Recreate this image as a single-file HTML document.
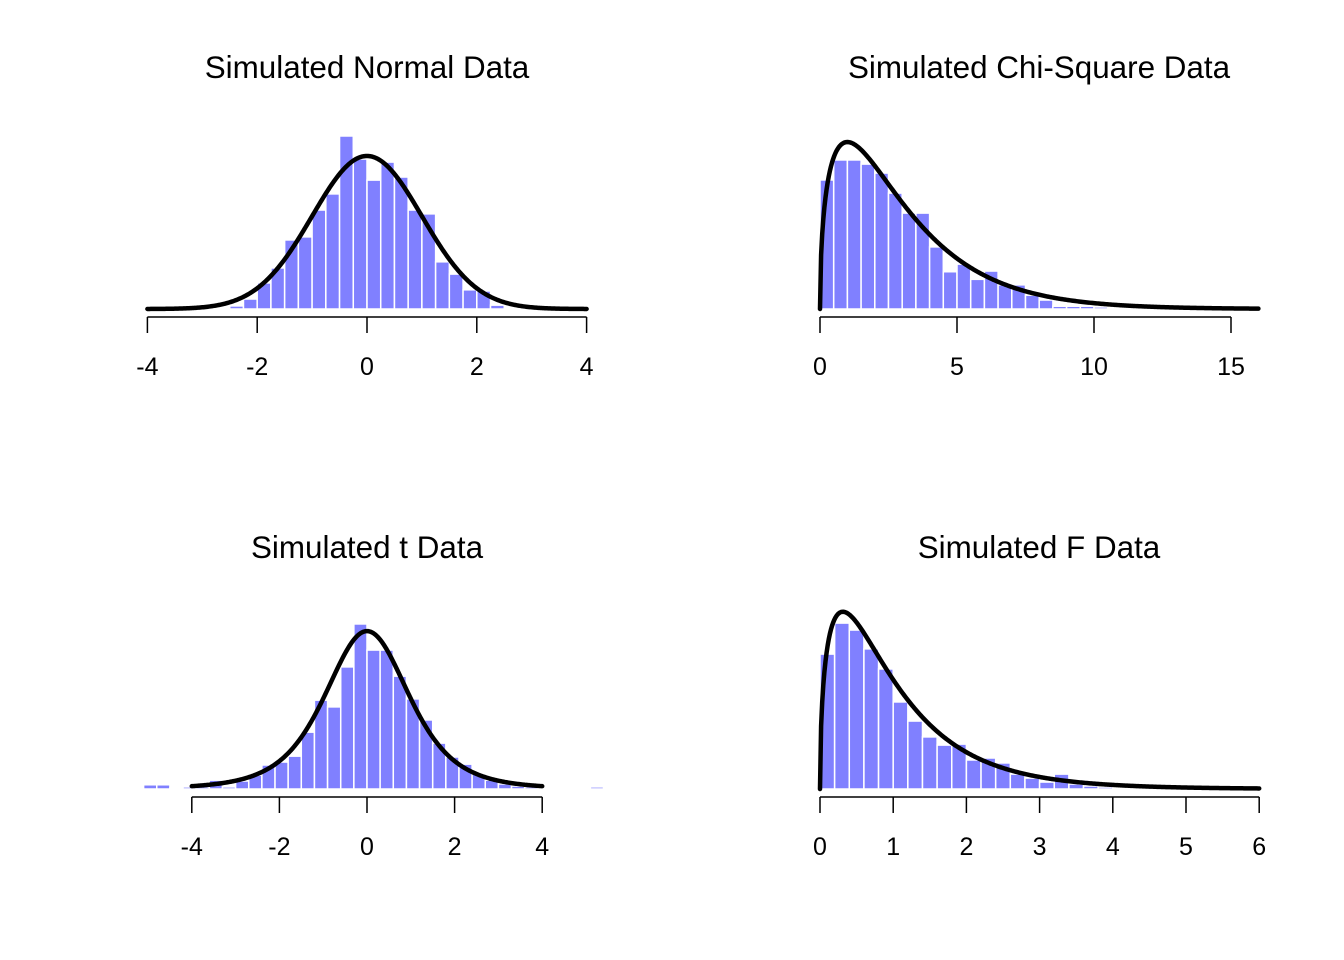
<!DOCTYPE html>
<html><head><meta charset="utf-8"><style>
html,body{margin:0;padding:0;background:#fff}
svg{display:block}
text{font-family:"Liberation Sans",Arial,sans-serif;fill:#000}
</style></head><body>
<svg id="chart" width="1344" height="960" viewBox="0 0 1344 960"></svg>
<script>
// ---- data ----
const normalBinStart = -2.5, normalBinWidth = 0.25;
const normalDensity = [0.008,0.026,0.068,0.107,0.180,0.188,0.258,0.300,0.451,0.391,0.336,0.383,0.344,0.258,0.248,0.123,0.091,0.050,0.047,0.010,0.003];
const normalTicks = [-4,-2,0,2,4];

const chiBinStart = 0, chiBinWidth = 0.5;
const chiDensity = [0.187,0.216,0.216,0.210,0.197,0.168,0.139,0.139,0.090,0.054,0.065,0.043,0.055,0.035,0.035,0.020,0.013,0.004,0.004,0.004,0.003];
const chiTicks = [0,5,10,15];

const tBinStart = -5.1, tBinWidth = 0.3;
const tDensity = [0.010,0.010,0.002,0.005,0.005,0.021,0.005,0.019,0.033,0.057,0.064,0.078,0.135,0.211,0.195,0.290,0.392,0.330,0.330,0.268,0.214,0.164,0.109,0.076,0.059,0.036,0.021,0.012,0.007,0.005,0.002,0,0,0,0.005];
const tTicks = [-4,-2,0,2,4];

const fBinStart = 0, fBinWidth = 0.2;
const fDensity = [0.544,0.669,0.641,0.565,0.484,0.351,0.274,0.210,0.177,0.181,0.117,0.125,0.105,0.060,0.044,0.028,0.060,0.020,0.012,0.008];
const fTicks = [0,1,2,3,4,5,6];

// ---- math ----
function lgamma(z){const g=7,c=[0.99999999999980993,676.5203681218851,-1259.1392167224028,771.32342877765313,-176.61502916214059,12.507343278686905,-0.13857109526572012,9.9843695780195716e-6,1.5056327351493116e-7];
 if(z<0.5) return Math.log(Math.PI/Math.sin(Math.PI*z))-lgamma(1-z);
 z-=1;let x=c[0];for(let i=1;i<g+2;i++)x+=c[i]/(z+i);const t=z+g+0.5;
 return 0.5*Math.log(2*Math.PI)+(z+0.5)*Math.log(t)-t+Math.log(x);}
const dnorm=x=>Math.exp(-x*x/2)/Math.sqrt(2*Math.PI);
const dchisq=(x,k)=>x<=0?0:Math.exp((k/2-1)*Math.log(x)-x/2-(k/2)*Math.log(2)-lgamma(k/2));
const dt=(x,n)=>Math.exp(lgamma((n+1)/2)-lgamma(n/2)-0.5*Math.log(n*Math.PI)-((n+1)/2)*Math.log(1+x*x/n));
const df=(x,a,b)=>x<=0?0:Math.exp(lgamma((a+b)/2)-lgamma(a/2)-lgamma(b/2)+(a/2)*Math.log(a/b)+(a/2-1)*Math.log(x)-((a+b)/2)*Math.log(1+a*x/b));

const svg=document.getElementById('chart');
const NS='http://www.w3.org/2000/svg';
function mk(tag,attrs,parent){const e=document.createElementNS(NS,tag);for(const k in attrs)e.setAttribute(k,attrs[k]);parent.appendChild(e);return e;}

function panel(opt){
 const g=mk('g',{},svg);
 
 
 const X=v=>opt.x0+(v-opt.v0)*opt.pxu;
 const Y=d=>opt.base-d*opt.ys;
 opt.dens.forEach((d,i)=>{
  if(d<=0) return;
  const a=opt.binStart+i*opt.binWidth, b=a+opt.binWidth;
  const r=mk('rect',{x:X(a),y:Y(d),width:X(b)-X(a),height:opt.base-Y(d),fill:'#8080FF',stroke:'#fff','stroke-width':1.5},g);
  
  
 });
 let p='';const n=400;
 for(let i=0;i<=n;i++){const v=opt.c0+(opt.c1-opt.c0)*i/n;p+=(i?'L':'M')+X(v).toFixed(2)+','+Y(opt.pdf(v)).toFixed(2);}
 const c=mk('path',{d:p,fill:'none',stroke:'#000','stroke-width':4.5,'stroke-linejoin':'round','stroke-linecap':'round'},g);
 
 
 const ay=opt.base+8;
 const t0=opt.ticks[0],t1=opt.ticks[opt.ticks.length-1];
 const ax=mk('line',{x1:X(t0),x2:X(t1),y1:ay,y2:ay,stroke:'#000','stroke-width':1.5},g);
 
 
 opt.ticks.forEach(t=>{
  const tk=mk('line',{x1:X(t),x2:X(t),y1:ay,y2:ay+16,stroke:'#000','stroke-width':1.5},g);
  
  
  const tl=mk('text',{x:X(t),y:ay+58,'text-anchor':'middle','font-size':25},g);
  tl.textContent=t;
  
  
 });
 const ti=mk('text',{x:opt.tx,y:opt.ty,'text-anchor':'middle','font-size':31.4},g);
 ti.textContent=opt.title;
 
 
}

panel({name:'normal-panel',title:'Simulated Normal Data',tx:367,ty:78,x0:367,v0:0,pxu:54.9,base:309,ys:383.6,
 dens:normalDensity,binStart:normalBinStart,binWidth:normalBinWidth,ticks:normalTicks,pdf:dnorm,c0:-4,c1:4});
panel({name:'chi-square-panel',title:'Simulated Chi-Square Data',tx:1039,ty:78,x0:820,v0:0,pxu:27.4,base:309,ys:690,
 dens:chiDensity,binStart:chiBinStart,binWidth:chiBinWidth,ticks:chiTicks,pdf:x=>dchisq(x,3),c0:0,c1:16});
panel({name:'t-panel',title:'Simulated t Data',tx:367,ty:558,x0:367,v0:0,pxu:43.8,base:789,ys:421,
 dens:tDensity,binStart:tBinStart,binWidth:tBinWidth,ticks:tTicks,pdf:x=>dt(x,4),c0:-4,c1:4});
panel({name:'f-panel',title:'Simulated F Data',tx:1039,ty:558,x0:820,v0:0,pxu:73.2,base:789,ys:248,
 dens:fDensity,binStart:fBinStart,binWidth:fBinWidth,ticks:fTicks,pdf:x=>df(x,3,30),c0:0,c1:6});
</script>
</body></html>
